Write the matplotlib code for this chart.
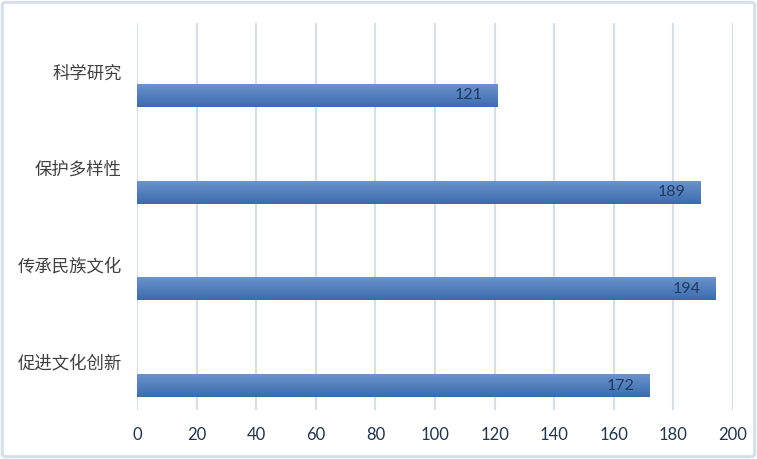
import numpy as np
import matplotlib
matplotlib.use("Agg")
import matplotlib.pyplot as plt
import matplotlib.colors as mc
from matplotlib.patches import FancyBboxPatch

# ---- data -------------------------------------------------------------
categories = ["促进文化创新", "传承民族文化", "保护多样性", "科学研究"]
values = [172, 194, 189, 121]
xticks = [0, 20, 40, 60, 80, 100, 120, 140, 160, 180, 200]

GRID = "#D5DFEA"
TICK = "#1F3550"
LABEL = "#404040"
BAR_TOP = "#6D95CD"
BAR_BOT = "#3B6BAE"
VAL = "#1F3A60"

plt.rcParams["font.family"] = ["Noto Sans CJK SC", "DejaVu Sans"]

fig = plt.figure(figsize=(7.57, 4.59), dpi=100)
ax = fig.add_axes([137 / 757, 49 / 459, 596 / 757, 387 / 459])

y = np.arange(len(categories))
bars = ax.barh(y - 0.248, values, height=0.238, color=BAR_BOT, lw=0, zorder=2)

# vertical gradient inside each bar
grad = np.linspace(0, 1, 64).reshape(-1, 1)
cmap = mc.LinearSegmentedColormap.from_list("bar", [BAR_BOT, BAR_TOP])
for b in bars:
    x0, y0 = b.get_x(), b.get_y()
    im = ax.imshow(grad, cmap=cmap, aspect="auto", origin="lower",
                   extent=(x0, x0 + b.get_width(), y0, y0 + b.get_height()),
                   zorder=3, interpolation="bicubic")
    im.set_clip_path(b)

for b, v in zip(bars, values):
    ax.text(b.get_width() - 5, b.get_y() + b.get_height() / 2, str(v),
            ha="right", va="center", color=VAL, fontsize=11.5,
            family=["Lato", "DejaVu Sans"], zorder=4)

ax.set_xlim(0, 200)
ax.set_ylim(-0.5, len(categories) - 0.5)
ax.set_xticks(xticks)
ax.set_xticklabels([str(t) for t in xticks], family=["Lato", "DejaVu Sans"],
                   fontsize=12, color=TICK)
ax.set_yticks(y)
ax.set_yticklabels(categories, fontsize=12.5, color=LABEL)
ax.tick_params(axis="x", length=0, pad=12)
ax.tick_params(axis="y", length=0, pad=11)
ax.xaxis.grid(True, color=GRID, lw=1.5, zorder=0)
ax.set_axisbelow(True)
for s in ax.spines.values():
    s.set_visible(False)

fig.patches.append(FancyBboxPatch((0.003, 0.005), 0.994, 0.99,
                                  boxstyle="round,pad=0,rounding_size=0.006",
                                  transform=fig.transFigure, fc="none",
                                  ec=GRID, lw=2.2))

fig.savefig("out.png", dpi=100)
